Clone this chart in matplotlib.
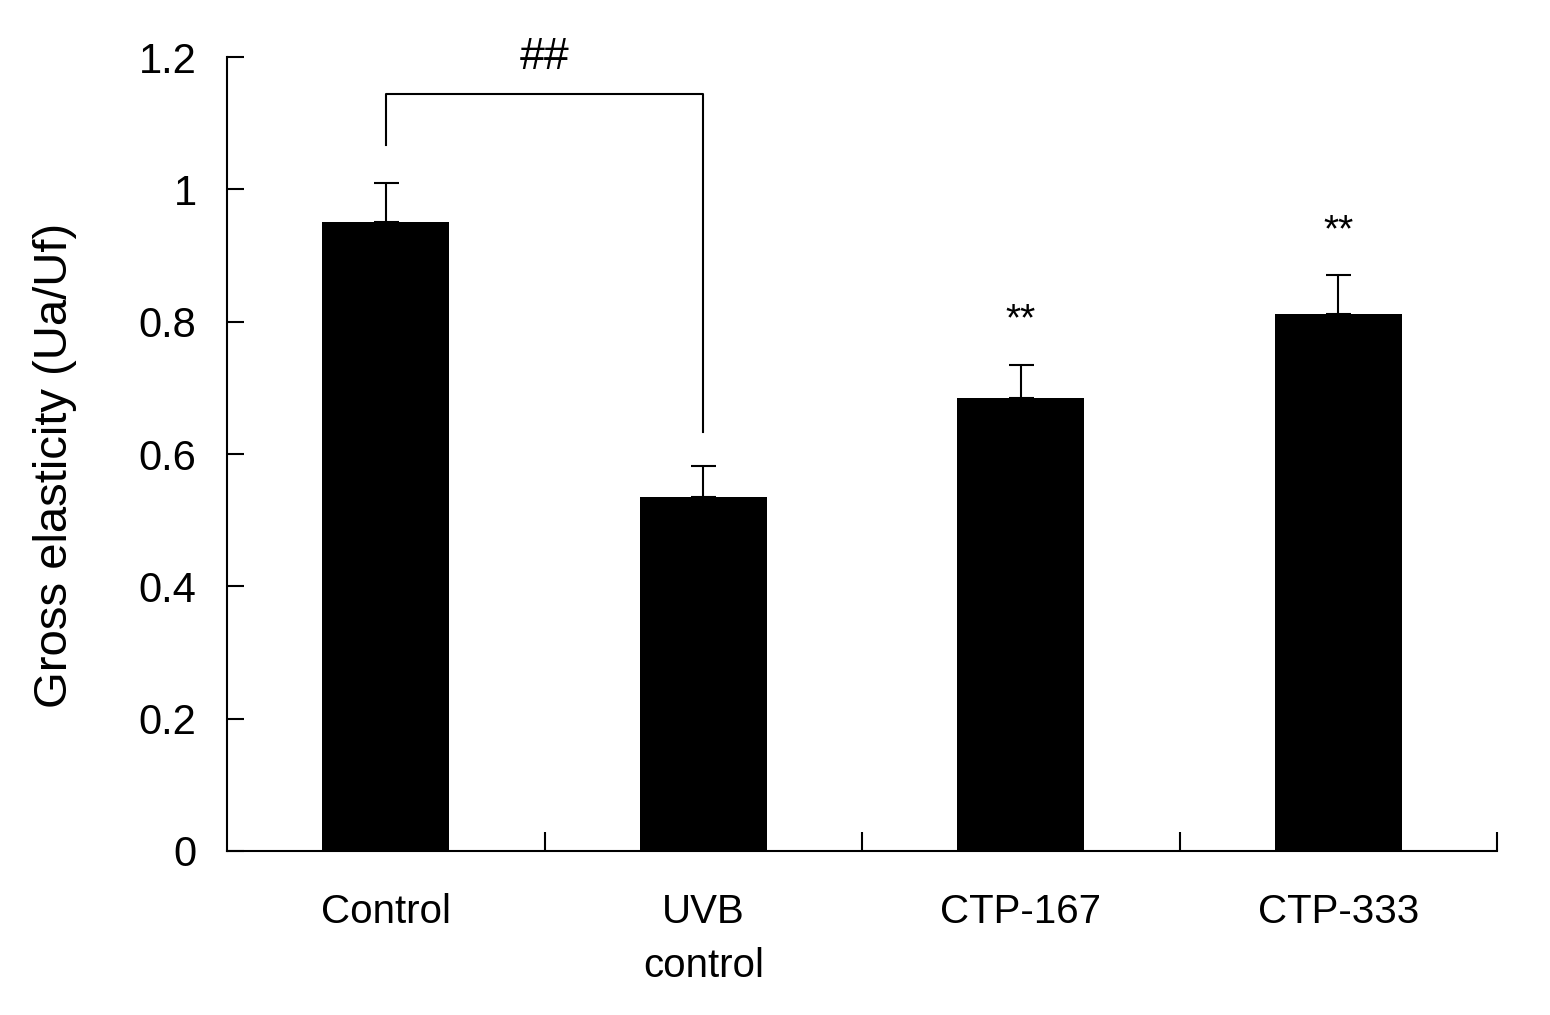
import matplotlib.pyplot as plt

plt.rcParams['font.family'] = ['Liberation Sans', 'DejaVu Sans']

groups = ['Control', 'UVB\ncontrol', 'CTP-167', 'CTP-333']
means = [0.95, 0.535, 0.685, 0.812]
errs = [0.06, 0.047, 0.05, 0.058]
stars = ['', '', '**', '**']

fig = plt.figure(figsize=(15.5, 10.15), dpi=100)
ax = fig.add_axes([0.1465, 0.1616, 0.8193, 0.7822])

x = [i + 0.5 for i in range(len(groups))]
ax.bar(x, means, width=0.4, color='black', zorder=2)
ax.errorbar(x, means, yerr=[[0] * len(errs), errs], fmt='none',
            ecolor='black', elinewidth=1.5, capsize=9, capthick=1.5, zorder=1)

for xi, m, e, s in zip(x, means, errs, stars):
    if s:
        ax.text(xi, m + e + 0.04, s, ha='center', va='bottom', fontsize=28)

# significance bracket Control vs UVB
ax.plot([x[0], x[0], x[1], x[1]], [1.067, 1.144, 1.144, 0.633],
        color='black', lw=1.5, clip_on=False)
ax.text((x[0] + x[1]) / 2, 1.168, '##', ha='center', va='bottom', fontsize=32)

ax.set_xlim(0, 4)
ax.set_ylim(0, 1.2)
ax.set_yticks([0, 0.2, 0.4, 0.6, 0.8, 1.0, 1.2])
ax.set_yticklabels(['0', '0.2', '0.4', '0.6', '0.8', '1', '1.2'])
ax.set_xticks([1, 2, 3, 4])
ax.set_xticklabels([])
ax.set_xticks(x, minor=True)
ax.set_xticklabels(groups, minor=True, fontsize=29, linespacing=1.55)
ax.tick_params(axis='x', which='major', direction='in', length=14, width=1.5)
ax.tick_params(axis='x', which='minor', length=0, pad=30)
ax.tick_params(axis='y', direction='in', length=12, width=1.5, labelsize=30, pad=22)

ax.spines['top'].set_visible(False)
ax.spines['right'].set_visible(False)
ax.spines['left'].set_linewidth(1.5)
ax.spines['bottom'].set_linewidth(1.5)

ax.set_ylabel('Gross elasticity (Ua/Uf)', fontsize=34)
ax.yaxis.set_label_coords(-0.118, 0.485)

plt.savefig('out.png', dpi=100)
